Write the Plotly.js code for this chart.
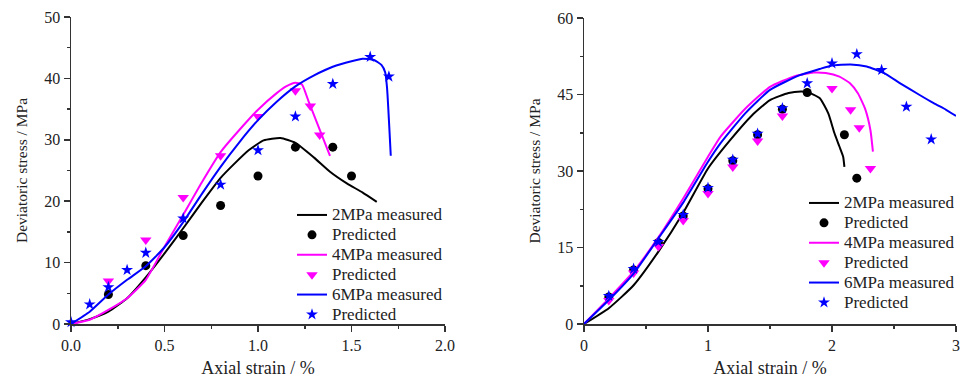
<!DOCTYPE html>
<html>
<head>
<meta charset="utf-8">
<script src="https://cdn.plot.ly/plotly-3.0.1.min.js"></script>
<style>
  html, body { margin: 0; padding: 0; background: #fff; }
  #chart { width: 967px; height: 383px; }
</style>
</head>
<body>
<div id="chart"></div>
<script>
// ---- Left panel: stress-strain curves, confining pressure 2 / 4 / 6 MPa ----
var leftStrain2 = [0, 0.1, 0.2, 0.3, 0.4, 0.5, 0.6, 0.7, 0.8, 0.87, 0.95, 1.03, 1.12, 1.2, 1.3, 1.385, 1.475, 1.56, 1.635];
var leftStress2 = [0, 0.8, 2.0, 4.2, 7.6, 11.5, 15.6, 19.8, 23.8, 26.0, 28.3, 29.9, 30.3, 29.5, 27.1, 24.8, 22.9, 21.4, 19.9];

var leftStrain4 = [0, 0.1, 0.2, 0.3, 0.4, 0.5, 0.6, 0.7, 0.8, 0.9, 1.0, 1.1, 1.15, 1.2, 1.235, 1.27, 1.385];
var leftStress4 = [0, 0.7, 2.3, 4.2, 7.2, 12.6, 17.8, 23.1, 28.0, 31.6, 34.9, 37.6, 38.7, 39.3, 39.0, 36.3, 27.4];

var leftStrain6 = [0, 0.1, 0.2, 0.3, 0.4, 0.5, 0.6, 0.7, 0.8, 0.9, 1.0, 1.1, 1.2, 1.3, 1.4, 1.5, 1.56, 1.62, 1.66, 1.68, 1.69, 1.71];
var leftStress6 = [0, 2.0, 4.8, 7.2, 9.4, 12.5, 16.6, 21.2, 25.6, 29.6, 33.2, 36.2, 38.7, 40.5, 41.9, 42.8, 43.2, 43.0, 42.2, 41.0, 38.5, 27.4];

var leftPredStrain2 = [0.2, 0.4, 0.6, 0.8, 1.0, 1.2, 1.4, 1.5];
var leftPredStress2 = [4.8, 9.5, 14.4, 19.3, 24.1, 28.8, 28.8, 24.1];

var leftPredStrain4 = [0.2, 0.4, 0.6, 0.8, 1.0, 1.2, 1.28, 1.33];
var leftPredStress4 = [7.0, 13.7, 20.6, 27.4, 33.8, 38.0, 35.5, 30.8];

var leftPredStrain6 = [0, 0.1, 0.2, 0.3, 0.4, 0.6, 0.8, 1.0, 1.2, 1.4, 1.6, 1.7];
var leftPredStress6 = [0.3, 3.2, 6.0, 8.8, 11.6, 17.2, 22.7, 28.3, 33.8, 39.1, 43.5, 40.3];

// ---- Right panel ----
var rightStrain2 = [0, 0.2, 0.4, 0.6, 0.8, 1.0, 1.18, 1.35, 1.5, 1.65, 1.75, 1.8, 1.9, 1.97, 2.02, 2.06, 2.09, 2.1];
var rightStress2 = [0, 3.1, 7.6, 14.2, 21.8, 30.5, 36.1, 40.8, 43.9, 45.3, 45.6, 45.5, 44.3, 41.3, 37.4, 34.8, 32.8, 30.8];

var rightStrain4 = [0, 0.2, 0.4, 0.6, 0.8, 1.0, 1.1, 1.3, 1.5, 1.7, 1.85, 1.95, 2.06, 2.145, 2.21, 2.27, 2.31, 2.33];
var rightStress4 = [0, 5.0, 10.3, 17.0, 24.6, 32.8, 36.7, 42.2, 46.5, 48.6, 49.3, 49.2, 48.5, 47.2, 45.2, 42.0, 38.0, 33.8];

var rightStrain6 = [0, 0.2, 0.4, 0.6, 0.8, 1.0, 1.1, 1.3, 1.5, 1.74, 1.9, 2.0, 2.15, 2.28, 2.42, 2.55, 2.7, 2.82, 2.92, 3.0];
var rightStress6 = [0, 4.7, 9.9, 16.8, 23.8, 31.8, 35.4, 41.3, 45.9, 48.8, 50.0, 50.7, 50.9, 50.5, 49.2, 47.2, 45.0, 43.3, 42.0, 40.8];

var rightPredStrain2 = [0.2, 0.4, 0.6, 0.8, 1.0, 1.2, 1.4, 1.6, 1.8, 2.1, 2.2];
var rightPredStress2 = [5.3, 10.6, 16.0, 21.2, 26.5, 32.0, 37.1, 42.1, 45.4, 37.1, 28.6];

var rightPredStrain4 = [0.2, 0.4, 0.6, 0.8, 1.0, 1.2, 1.4, 1.6, 2.0, 2.15, 2.22, 2.31];
var rightPredStress4 = [4.6, 10.0, 15.2, 20.3, 25.6, 30.8, 35.9, 40.8, 46.2, 42.0, 38.5, 30.5];

var rightPredStrain6 = [0.2, 0.4, 0.6, 0.8, 1.0, 1.2, 1.4, 1.6, 1.8, 2.0, 2.2, 2.4, 2.6, 2.8];
var rightPredStress6 = [5.5, 10.8, 16.1, 21.4, 26.7, 32.2, 37.3, 42.3, 47.2, 51.1, 52.9, 49.8, 42.6, 36.2];

// Legend labels
var seriesNames = ['2MPa measured', 'Predicted', '4MPa measured', 'Predicted', '6MPa measured', 'Predicted'];

var BLACK = '#000000', MAGENTA = '#ff00ff', BLUE = '#0000ff';

function label(t) { return '<span style="font-size:17px">' + t + '</span>'; }

function lineTrace(x, y, color, name, xa, ya, lg) {
  return { x: x, y: y, type: 'scatter', mode: 'lines', name: label(name),
           line: { color: color, width: 2, shape: 'spline', smoothing: 0.5 },
           xaxis: xa, yaxis: ya, legend: lg, hoverinfo: 'skip' };
}
function markerTrace(x, y, color, symbol, size, name, xa, ya, lg) {
  return { x: x, y: y, type: 'scatter', mode: 'markers', name: label(name),
           marker: { color: color, symbol: symbol, size: size, line: { width: 0 } },
           cliponaxis: false, xaxis: xa, yaxis: ya, legend: lg, hoverinfo: 'skip' };
}

var traces = [
  lineTrace(leftStrain2, leftStress2, BLACK, seriesNames[0], 'x', 'y', 'legend'),
  markerTrace(leftPredStrain2, leftPredStress2, BLACK, 'circle', 9, seriesNames[1], 'x', 'y', 'legend'),
  lineTrace(leftStrain4, leftStress4, MAGENTA, seriesNames[2], 'x', 'y', 'legend'),
  markerTrace(leftPredStrain4, leftPredStress4, MAGENTA, 'triangle-down', 10, seriesNames[3], 'x', 'y', 'legend'),
  lineTrace(leftStrain6, leftStress6, BLUE, seriesNames[4], 'x', 'y', 'legend'),
  markerTrace(leftPredStrain6, leftPredStress6, BLUE, 'star', 9, seriesNames[5], 'x', 'y', 'legend'),

  lineTrace(rightStrain2, rightStress2, BLACK, seriesNames[0], 'x2', 'y2', 'legend2'),
  markerTrace(rightPredStrain2, rightPredStress2, BLACK, 'circle', 9, seriesNames[1], 'x2', 'y2', 'legend2'),
  lineTrace(rightStrain4, rightStress4, MAGENTA, seriesNames[2], 'x2', 'y2', 'legend2'),
  markerTrace(rightPredStrain4, rightPredStress4, MAGENTA, 'triangle-down', 10, seriesNames[3], 'x2', 'y2', 'legend2'),
  lineTrace(rightStrain6, rightStress6, BLUE, seriesNames[4], 'x2', 'y2', 'legend2'),
  markerTrace(rightPredStrain6, rightPredStress6, BLUE, 'star', 9, seriesNames[5], 'x2', 'y2', 'legend2')
];

var AXIS_COLOR = '#333333';
function axisStyle(extra) {
  var base = {
    showline: true, linecolor: AXIS_COLOR, linewidth: 1.5,
    ticks: 'outside', ticklen: 6, tickwidth: 1.5, tickcolor: AXIS_COLOR,
    showgrid: false, zeroline: false, fixedrange: true,
    tickfont: { size: 16, color: '#222' }
  };
  for (var k in extra) base[k] = extra[k];
  return base;
}
function minor(d) {
  return { ticks: 'outside', ticklen: 3, tickwidth: 1.5, tickcolor: AXIS_COLOR, dtick: d, showgrid: false };
}

var W = 967, H = 383;
var layout = {
  width: W, height: H,
  margin: { l: 0, r: 0, t: 0, b: 0 },
  paper_bgcolor: '#ffffff', plot_bgcolor: '#ffffff',
  font: { family: '"Liberation Serif", "Times New Roman", serif', size: 16, color: '#222' },
  showlegend: true,

  xaxis: axisStyle({ domain: [71 / W, 445 / W], range: [0, 2], anchor: 'y',
    dtick: 0.5, tick0: 0, tickformat: '.1f', minor: minor(0.25),
    title: { text: 'Axial strain / %', font: { size: 18 }, standoff: 8 } }),
  yaxis: axisStyle({ domain: [1 - 324 / H, 1 - 17 / H], range: [0, 50], anchor: 'x',
    dtick: 10, tick0: 0, minor: minor(5),
    title: { text: 'Deviatoric stress / MPa', font: { size: 15.5 }, standoff: 13 } }),

  xaxis2: axisStyle({ domain: [584 / W, 956 / W], range: [0, 3], anchor: 'y2',
    dtick: 1, tick0: 0, minor: minor(0.5),
    title: { text: 'Axial strain / %', font: { size: 18 }, standoff: 8 } }),
  yaxis2: axisStyle({ domain: [1 - 324 / H, 1 - 18 / H], range: [0, 60], anchor: 'x2',
    dtick: 15, tick0: 0, minor: minor(7.5),
    title: { text: 'Deviatoric stress / MPa', font: { size: 15.5 }, standoff: 13 } }),

  legend: { x: 292 / W, y: 1 - 200 / H, xanchor: 'left', yanchor: 'top',
    bgcolor: 'rgba(0,0,0,0)', borderwidth: 0, font: { size: 13, color: '#222' },
    tracegroupgap: 0, itemclick: false, itemdoubleclick: false },
  legend2: { x: 804 / W, y: 1 - 188 / H, xanchor: 'left', yanchor: 'top',
    bgcolor: 'rgba(0,0,0,0)', borderwidth: 0, font: { size: 13, color: '#222' },
    tracegroupgap: 0, itemclick: false, itemdoubleclick: false }
};

Plotly.newPlot('chart', traces, layout, { displayModeBar: false, staticPlot: true });
</script>
</body>
</html>
